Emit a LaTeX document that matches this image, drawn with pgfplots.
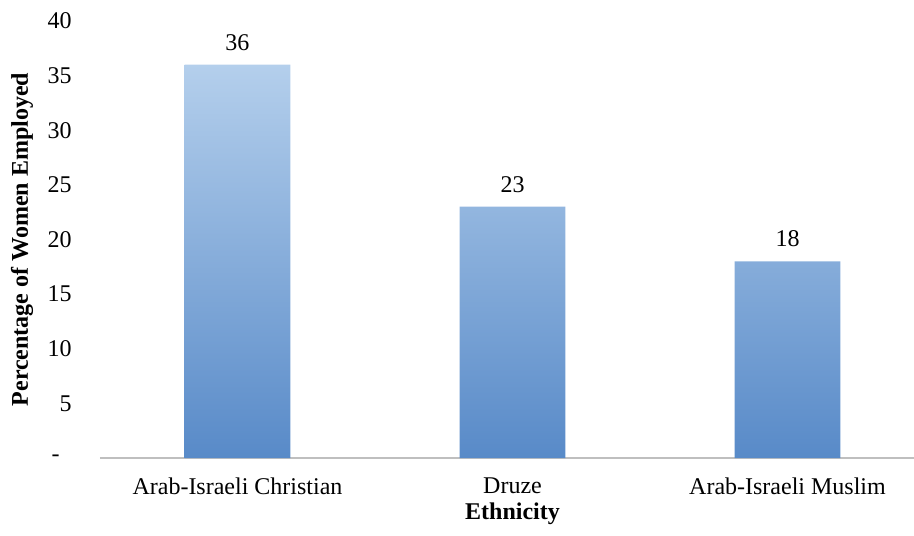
\documentclass[border=0pt]{standalone}
\usepackage{fontspec}
\setmainfont{Liberation Serif}
\usepackage{pgfplots}
\pgfplotsset{compat=1.18}

\definecolor{barTop}{RGB}{180,207,236}
\definecolor{barBot}{RGB}{88,138,200}
\definecolor{axisGray}{RGB}{191,191,191}

\begin{document}
\fontsize{12}{14}\selectfont
\begin{tikzpicture}
\begin{axis}[
  scale only axis,
  width=407pt, height=218.5pt,
  xmin=-0.5, xmax=2.46,
  ymin=0, ymax=40,
  axis x line=bottom, axis y line=left,
  x axis line style={-, draw=axisGray, line width=1.4pt},
  y axis line style={draw=none},
  major tick length=0pt,
  xtick={0,1,2},
  xticklabels={Arab-Israeli Christian, Druze, Arab-Israeli Muslim},
  ytick={0,5,10,15,20,25,30,35,40},
  yticklabels={{\hbox{-\kern6pt}},5,10,15,20,25,30,35,40},
  /pgf/number format/assume math mode=true,
  tick label style={font=\fontsize{12}{14}\selectfont},
  yticklabel style={xshift=-10pt},
  xticklabel style={yshift=-5.5pt},
  ylabel={\textbf{Percentage of Women Employed}},
  every axis y label/.style={at={(axis description cs:0,0.5)}, xshift=-39pt, rotate=90, anchor=center},
  xlabel={\textbf{Ethnicity}},
  every axis x label/.style={at={(axis cs:1,0)}, anchor=center, yshift=-28pt},
  nodes near coords,
  every node near coord/.append style={font=\fontsize{12}{14}\selectfont, yshift=3pt},
  clip=false,
]
\addplot[ybar, bar width=0.385, draw=none, top color=barTop, bottom color=barBot]
  coordinates {(0,36) (1,23) (2,18)};
\end{axis}
\pgfresetboundingbox
\path (-50pt,-38.5pt) rectangle (407pt,229pt);
\end{tikzpicture}
\end{document}
